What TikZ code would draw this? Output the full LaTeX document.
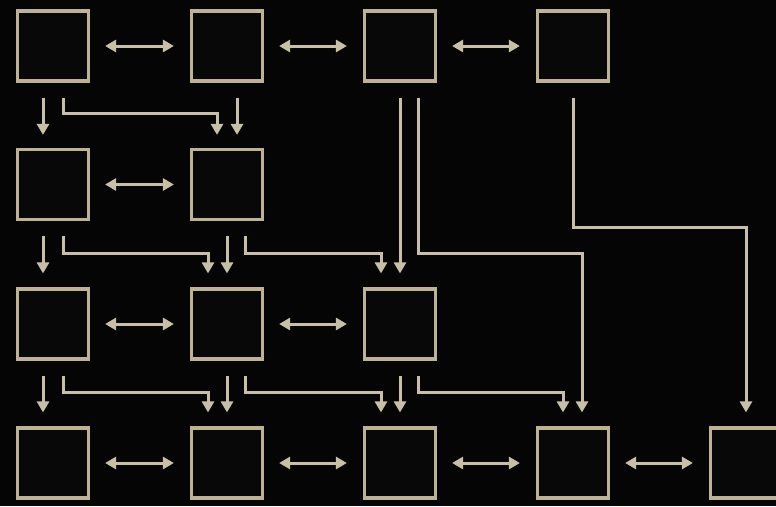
\documentclass[tikz,border=0pt]{standalone}
\usetikzlibrary{arrows.meta}
\definecolor{bg}{RGB}{5,5,5}
\definecolor{boxc}{RGB}{190,178,148}
\definecolor{linec}{RGB}{200,192,166}
\definecolor{boxfill}{RGB}{8,8,8}
\begin{document}
\begin{tikzpicture}[x=1pt,y=-1pt,
  box/.style={draw=boxc,line width=3.2pt,fill=boxfill,minimum width=71pt,minimum height=70pt,inner sep=0pt},
  arr/.style={draw=linec,line width=3pt,-{Triangle[length=11pt,width=12pt]}},
  dbl/.style={draw=linec,line width=3pt,{Triangle[length=11pt,width=12pt]}-{Triangle[length=11pt,width=12pt]}}]
\fill[bg] (0,0) rectangle (776,506);
\useasboundingbox (0,0) rectangle (776,506);
% row 0
\node[box] (A00) at (53,46) {};
\node[box] (A01) at (227,46) {};
\node[box] (A02) at (400,46) {};
\node[box] (A03) at (573,46) {};
% row 1
\node[box] (A10) at (53,184.5) {};
\node[box] (A11) at (227,184.5) {};
% row 2
\node[box] (A20) at (53,324) {};
\node[box] (A21) at (227,324) {};
\node[box] (A22) at (400,324) {};
% row 3
\node[box] (A30) at (53,463) {};
\node[box] (A31) at (227,463) {};
\node[box] (A32) at (400,463) {};
\node[box] (A33) at (573,463) {};
\node[box] (A34) at (746,463) {};
% horizontal double arrows
\draw[dbl] ([xshift=15pt]A00.east) -- ([xshift=-16pt]A01.west);
\draw[dbl] ([xshift=15pt]A01.east) -- ([xshift=-16pt]A02.west);
\draw[dbl] ([xshift=15pt]A02.east) -- ([xshift=-16pt]A03.west);
\draw[dbl] ([xshift=15pt]A10.east) -- ([xshift=-16pt]A11.west);
\draw[dbl] ([xshift=15pt]A20.east) -- ([xshift=-16pt]A21.west);
\draw[dbl] ([xshift=15pt]A21.east) -- ([xshift=-16pt]A22.west);
\draw[dbl] ([xshift=15pt]A30.east) -- ([xshift=-16pt]A31.west);
\draw[dbl] ([xshift=15pt]A31.east) -- ([xshift=-16pt]A32.west);
\draw[dbl] ([xshift=15pt]A32.east) -- ([xshift=-16pt]A33.west);
\draw[dbl] ([xshift=15pt]A33.east) -- ([xshift=-16pt]A34.west);
% row 0 -> row 1
\draw[arr] ([xshift=-10pt,yshift=-15pt]A00.south) -- ([xshift=-10pt,yshift=13pt]A10.north);
\draw[arr] ([xshift=10pt,yshift=-15pt]A00.south) -- ++(0,16) -| ([xshift=-10pt,yshift=13pt]A11.north);
\draw[arr] ([xshift=10pt,yshift=-15pt]A01.south) -- ([xshift=10pt,yshift=13pt]A11.north);
% long connectors from row 0
\draw[arr] ([yshift=-15pt]A02.south) -- ([yshift=14pt]A22.north);
\draw[arr] ([xshift=18pt,yshift=-15pt]A02.south) -- ++(0,156) -| ([xshift=9pt,yshift=14pt]A33.north);
\draw[arr] ([yshift=-15pt]A03.south) -- ++(0,130) -| ([yshift=14pt]A34.north);
% row 1 -> row 2
\draw[arr] ([xshift=-10pt,yshift=-15pt]A10.south) -- ([xshift=-10pt,yshift=14pt]A20.north);
\draw[arr] ([xshift=10pt,yshift=-15pt]A10.south) -- ++(0,17) -| ([xshift=-19pt,yshift=14pt]A21.north);
\draw[arr] ([yshift=-15pt]A11.south) -- ([yshift=14pt]A21.north);
\draw[arr] ([xshift=18pt,yshift=-15pt]A11.south) -- ++(0,17) -| ([xshift=-19pt,yshift=14pt]A22.north);
% row 2 -> row 3
\draw[arr] ([xshift=-10pt,yshift=-15pt]A20.south) -- ([xshift=-10pt,yshift=14pt]A30.north);
\draw[arr] ([xshift=10pt,yshift=-15pt]A20.south) -- ++(0,17) -| ([xshift=-19pt,yshift=14pt]A31.north);
\draw[arr] ([yshift=-15pt]A21.south) -- ([yshift=14pt]A31.north);
\draw[arr] ([xshift=18pt,yshift=-15pt]A21.south) -- ++(0,17) -| ([xshift=-19pt,yshift=14pt]A32.north);
\draw[arr] ([yshift=-15pt]A22.south) -- ([yshift=14pt]A32.north);
\draw[arr] ([xshift=18pt,yshift=-15pt]A22.south) -- ++(0,17) -| ([xshift=-10pt,yshift=14pt]A33.north);
\end{tikzpicture}
\end{document}
